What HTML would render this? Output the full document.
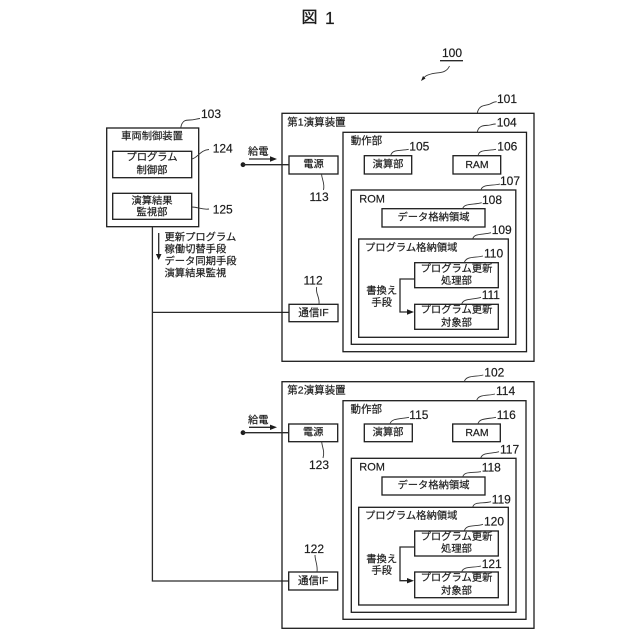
<!DOCTYPE html>
<html><head><meta charset="utf-8"><style>
html,body{margin:0;padding:0;background:#fff}
svg{display:block}
text{font-family:"Liberation Sans","Noto Sans CJK JP",sans-serif;fill:#1c1c1c;stroke:#1c1c1c;stroke-width:.18;dominant-baseline:central}
.j{font-size:10.3px}
.c{text-anchor:middle}
.n{font-size:12px}
rect{fill:none;stroke:#1c1c1c;stroke-width:1.3}
path.b{fill:none;stroke:#2a2a2a;stroke-width:1.3}
path.l{fill:none;stroke:#333;stroke-width:.9}
path.a{fill:#1c1c1c;stroke:none}
</style></head><body>
<svg width="640" height="640" viewBox="0 0 640 640" xmlns="http://www.w3.org/2000/svg">
<text x="301.5" y="18" style="font-size:16px;stroke-width:.35">図</text>
<text x="325" y="18" style="font-size:17.5px">1</text>
<text class="n" x="442" y="53">100</text>
<path class="b" d="M440 60.7H463"/>
<path class="l" d="M449.5 66C446 74 438 72 431 74S425 77 423 79"/>
<path class="a" d="M421 81L423 76L425.5 78.5Z"/>

<!-- vehicle control -->
<rect x="106.7" y="128" width="92" height="98.7"/>
<rect x="112.7" y="151.3" width="79" height="26.4"/>
<rect x="112.7" y="193.3" width="79" height="26"/>
<text class="j c" x="152" y="137">車両制御装置</text>
<text class="j c" x="152" y="158">プログラム</text>
<text class="j c" x="152" y="171">制御部</text>
<text class="j c" x="152" y="201.7">演算結果</text>
<text class="j c" x="152" y="213">監視部</text>
<text class="n" x="201" y="114">103</text>
<path class="l" d="M180.7 128C182 120 186 120 190 120S196 119 200 118.5"/>
<text class="n" x="212.7" y="148.7">124</text>
<path class="l" d="M191.7 159C198 158 200 150 209 149.5"/>
<text class="n" x="212.7" y="209.3">125</text>
<path class="l" d="M191.7 207C198 207 202 210 209 209"/>
<path class="b" d="M152.4 226.7V581H288.5"/>
<path class="b" d="M152.4 312.4H289"/>
<path class="b" d="M158.7 233V255"/>
<path class="a" d="M155.9 254H161.5L158.7 260Z"/>
<text class="j" x="164.5" y="238">更新プログラム</text>
<text class="j" x="164.5" y="250">稼働切替手段</text>
<text class="j" x="164.5" y="262">データ同期手段</text>
<text class="j" x="164.5" y="274">演算結果監視</text>

<!-- device 1 -->
<rect x="282" y="113.3" width="252" height="248"/>
<rect x="343" y="132.3" width="183.5" height="219.4"/>
<rect x="351.3" y="190" width="164.5" height="154.3"/>
<rect x="358.7" y="239" width="149.6" height="98.3"/>
<rect x="364.3" y="155.7" width="47.4" height="18.3"/>
<rect x="453" y="155.7" width="47.7" height="18.3"/>
<rect x="382" y="208.7" width="103" height="18.3"/>
<rect x="414.7" y="262.7" width="83.6" height="25"/>
<rect x="414.7" y="304.3" width="83.6" height="25"/>
<rect x="289" y="156" width="49" height="18"/>
<rect x="289" y="304.3" width="49" height="17.4"/>
<text class="j" x="287.3" y="122.3" style="font-size:10.5px">第1演算装置</text>
<text class="j" x="350.7" y="141" style="font-size:10.5px">動作部</text>
<text class="j c" x="388" y="165">演算部</text>
<text class="j c" x="477" y="165" style="font-size:10.5px">RAM</text>
<text x="359.3" y="199.3" style="font-size:11px">ROM</text>
<text class="j c" x="433.5" y="218">データ格納領域</text>
<text class="j" x="365" y="248.3">プログラム格納領域</text>
<text class="j c" x="456.5" y="269.3">プログラム更新</text>
<text class="j c" x="456.5" y="281.7">処理部</text>
<text class="j c" x="456.5" y="310.5">プログラム更新</text>
<text class="j c" x="456.5" y="323.3">対象部</text>
<text class="j c" x="381.7" y="291.7">書換え</text>
<text class="j c" x="381.7" y="303.3">手段</text>
<text class="j c" x="313.5" y="165">電源</text>
<text class="j c" x="313.5" y="313" style="font-size:10.5px">通信IF</text>
<path class="b" d="M414.7 279H400V312H408"/>
<path class="a" d="M407 309.2L414 312L407 314.8Z"/>
<circle cx="243" cy="164.7" r="2.4" fill="#1c1c1c"/>
<path class="b" d="M243 164.7H289"/>
<text class="j" x="248" y="152.7">給電</text>
<path class="b" d="M249 159H271"/>
<path class="a" d="M270 156.3L277 159L270 161.7Z"/>
<text class="n" x="497" y="99">101</text>
<path class="l" d="M477.3 113C479 104 486 106 490 104S494 102 496.7 101.7"/>
<text class="n" x="496.7" y="122.7">104</text>
<path class="l" d="M477.3 132C479 124 486 126 490 125S493 124 495.7 124"/>
<text class="n" x="409.3" y="146.7">105</text>
<path class="l" d="M390.7 155.7C392 149 400 151 408.7 149.3"/>
<text class="n" x="497.3" y="146.7">106</text>
<path class="l" d="M478 155.7C479 149 488 151 496 149.3"/>
<text class="n" x="500" y="181">107</text>
<path class="l" d="M481 190C482 184 492 186 500 184"/>
<text class="n" x="482" y="200">108</text>
<path class="l" d="M462.7 208.7C464 203 474 205 481.7 202.7"/>
<text class="n" x="491.7" y="230">109</text>
<path class="l" d="M472.7 239C474 233 483 235 491 232.7"/>
<text class="n" x="484" y="253.3">110</text>
<path class="l" d="M464.3 262.7C466 256 475 258 483 256"/>
<text class="n" x="481.7" y="295">111</text>
<path class="l" d="M461.7 304.3C463 298 473 300 481 297.3"/>
<text class="n" x="309.5" y="197">113</text>
<path class="l" d="M321.5 174C322 180 325 183 323.5 190"/>
<text class="n" x="303.5" y="280.7">112</text>
<path class="l" d="M316.7 287C315 293 320 297 319 304"/>

<!-- device 2 -->
<rect x="282" y="381.7" width="252" height="246.6"/>
<rect x="343" y="400.7" width="183" height="218.6"/>
<rect x="351.3" y="458.3" width="164.7" height="154"/>
<rect x="358.7" y="507.3" width="149.6" height="97.7"/>
<rect x="364.3" y="424" width="48" height="17.7"/>
<rect x="452.7" y="424" width="47.6" height="17.7"/>
<rect x="382" y="477" width="103" height="18"/>
<rect x="414.7" y="531" width="83.6" height="25"/>
<rect x="414.7" y="572" width="83.6" height="25.7"/>
<rect x="288.7" y="424" width="49" height="17.7"/>
<rect x="288.7" y="572" width="49" height="18"/>
<text class="j" x="287.3" y="390.7" style="font-size:10.5px">第2演算装置</text>
<text class="j" x="350.5" y="409.3" style="font-size:10.5px">動作部</text>
<text class="j c" x="388" y="433">演算部</text>
<text class="j c" x="477" y="433" style="font-size:10.5px">RAM</text>
<text x="359.3" y="467.3" style="font-size:11px">ROM</text>
<text class="j c" x="433.5" y="486">データ格納領域</text>
<text class="j" x="365" y="516.7">プログラム格納領域</text>
<text class="j c" x="456.5" y="537.3">プログラム更新</text>
<text class="j c" x="456.5" y="549.3">処理部</text>
<text class="j c" x="456.5" y="578.5">プログラム更新</text>
<text class="j c" x="456.5" y="591.7">対象部</text>
<text class="j c" x="381.7" y="560">書換え</text>
<text class="j c" x="381.7" y="571.7">手段</text>
<text class="j c" x="313.2" y="433">電源</text>
<text class="j c" x="313.2" y="581" style="font-size:10.5px">通信IF</text>
<path class="b" d="M414.7 547H400V580.7H408"/>
<path class="a" d="M407 578L414 580.7L407 583.4Z"/>
<circle cx="243" cy="432.7" r="2.4" fill="#1c1c1c"/>
<path class="b" d="M243 432.7H288.7"/>
<text class="j" x="248" y="421">給電</text>
<path class="b" d="M249 427.3H271"/>
<path class="a" d="M270 424.6L277 427.3L270 430Z"/>
<text class="n" x="484.3" y="372.7">102</text>
<path class="l" d="M464.3 381.7C466 375 476 377 483.3 375"/>
<text class="n" x="496" y="391">114</text>
<path class="l" d="M476.7 400.7C478 394 488 396 495 394"/>
<text class="n" x="409.3" y="415">115</text>
<path class="l" d="M390 424C391 418 401 419 409 417.3"/>
<text class="n" x="496.7" y="415">116</text>
<path class="l" d="M478 424C479 418 488 419 496 417.3"/>
<text class="n" x="500" y="449.3">117</text>
<path class="l" d="M480.7 458.3C482 452 491 454 499 451.7"/>
<text class="n" x="481.7" y="467.7">118</text>
<path class="l" d="M462.7 477C464 471 473 473 481 471.7"/>
<text class="n" x="491.7" y="499.3">119</text>
<path class="l" d="M472.7 507.3C474 501 483 504 491 501.7"/>
<text class="n" x="484" y="521.7">120</text>
<path class="l" d="M464.3 531C466 524 475 527 483 524.3"/>
<text class="n" x="481.7" y="564">121</text>
<path class="l" d="M461.7 572C463 566 473 568 481 566"/>
<text class="n" x="309" y="465">123</text>
<path class="l" d="M321.7 441.7C322 447 325 451 323 458"/>
<text class="n" x="304" y="549">122</text>
<path class="l" d="M315 555C315 561 318 565 317 572"/>
</svg>
</body></html>
